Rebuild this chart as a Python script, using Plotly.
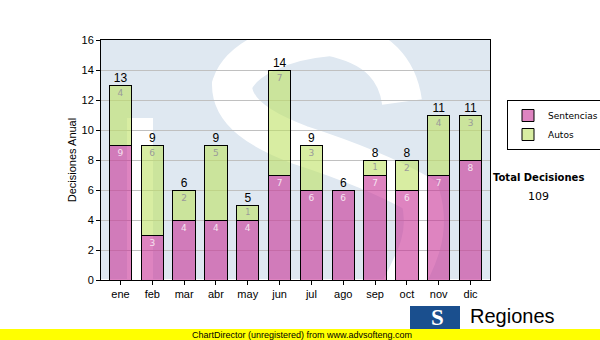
import plotly.graph_objects as go

months = ["ene", "feb", "mar", "abr", "may", "jun", "jul", "ago", "sep", "oct", "nov", "dic"]
sentencias = [9, 3, 4, 4, 4, 7, 6, 6, 7, 6, 7, 8]
autos = [4, 6, 2, 5, 1, 7, 3, 0, 1, 2, 4, 3]
totals = [s + a for s, a in zip(sentencias, autos)]
total_label = "Total Decisiones"

L, R, T, B = 101, 110, 40, 60
W, H = 600, 340
PW, PH = W - L - R, H - T - B


def px(x):
    return (x - L) / PW


def py(y):
    return (H - B - y) / PH


PINK = "rgba(200,50,150,0.6)"
GREEN = "rgba(190,225,100,0.6)"

fig = go.Figure()
fig.add_bar(
    x=months, y=sentencias, name="Sentencias",
    marker=dict(color=PINK, line=dict(color="black", width=1)),
    text=[str(v) if v else "" for v in sentencias],
    textposition="inside", insidetextanchor="end", textangle=0,
    textfont=dict(family="DejaVu Sans", size=9, color="#f6e2f0"),
    width=0.7,
)
fig.add_bar(
    x=months, y=autos, name="Autos",
    marker=dict(color=GREEN, line=dict(color="black", width=1)),
    text=[str(v) if v else "" for v in autos],
    textposition="inside", insidetextanchor="end", textangle=0,
    textfont=dict(family="DejaVu Sans", size=9, color="#9a9a9a"),
    width=0.7,
)
fig.add_scatter(
    x=months, y=totals, mode="text", text=[str(v) for v in totals],
    textposition="top center", showlegend=False, cliponaxis=False,
    textfont=dict(family="Liberation Sans", size=12, color="black"),
)

# watermark "S" (decoration)
pts = [(402, 102), (398, 72), (380, 46), (330, 36), (280, 40), (240, 60), (232, 85),
       (232, 112), (260, 130), (300, 145), (340, 158), (385, 175), (420, 195),
       (432, 235), (415, 262), (395, 300), (330, 300)]
path = "M {},{}".format(px(pts[0][0]), py(pts[0][1]))
i = 1
while i + 2 < len(pts):
    a, b, c = pts[i], pts[i + 1], pts[i + 2]
    path += " C {},{} {},{} {},{}".format(px(a[0]), py(a[1]), px(b[0]), py(b[1]), px(c[0]), py(c[1]))
    i += 3
shapes = [
    dict(type="path", xref="paper", yref="paper", path=path, layer="below",
         line=dict(color="white", width=40), fillcolor="rgba(0,0,0,0)"),
    dict(type="rect", xref="paper", yref="paper", x0=px(127), x1=px(153), y0=py(280), y1=py(118),
         layer="below", line=dict(width=0), fillcolor="white"),
    # logo
    dict(type="rect", xref="paper", yref="paper", x0=px(410), x1=px(460), y0=py(329), y1=py(306),
         layer="above", line=dict(width=0), fillcolor="#1a4f8e"),
    # yellow band
    dict(type="rect", xref="paper", yref="paper", x0=px(0), x1=px(600), y0=py(340), y1=py(329),
         layer="above", line=dict(width=0), fillcolor="#ffff00"),
]

annotations = [
    dict(text="<b>" + total_label + "</b>", x=px(538), y=py(177), xref="paper", yref="paper",
         xanchor="center", yanchor="middle", showarrow=False,
         font=dict(family="DejaVu Sans", size=10, color="black")),
    dict(text=str(sum(totals)), x=px(538), y=py(196), xref="paper", yref="paper",
         xanchor="center", yanchor="middle", showarrow=False,
         font=dict(family="DejaVu Sans", size=11, color="black")),
    dict(text="ChartDirector (unregistered) from www.advsofteng.com", x=px(190), y=py(334.5),
         xref="paper", yref="paper", xanchor="left", yanchor="middle", showarrow=False,
         font=dict(family="Liberation Sans", size=9, color="black")),
    dict(text="Regiones", x=px(468), y=py(316), xref="paper", yref="paper", xanchor="left",
         yanchor="middle", showarrow=False,
         font=dict(family="Liberation Sans", size=20, color="black")),
    dict(text="<b>S</b>", x=px(437), y=py(317), xref="paper", yref="paper",
         xanchor="center", yanchor="middle", showarrow=False,
         font=dict(family="Liberation Serif", size=23, color="white")),
]

fig.update_layout(
    width=W, height=H,
    margin=dict(l=L, r=R, t=T, b=B, autoexpand=False),
    barmode="stack",
    paper_bgcolor="white",
    plot_bgcolor="#dfe8f1",
    shapes=shapes,
    annotations=annotations,
    legend=dict(x=px(507), y=py(100), xanchor="left", yanchor="top",
                bgcolor="white", bordercolor="black", borderwidth=1,
                font=dict(family="DejaVu Sans", size=9, color="black"),
                traceorder="normal", itemwidth=30, tracegroupgap=0),
    font=dict(family="Liberation Sans", size=11, color="black"),
)
fig.update_xaxes(
    showline=True, linecolor="black", linewidth=1, mirror=True,
    ticks="outside", ticklen=4, tickcolor="black",
    tickfont=dict(family="Liberation Sans", size=11, color="black"),
    showgrid=False,
)
fig.update_yaxes(
    range=[0, 16], dtick=2,
    showline=True, linecolor="black", linewidth=1, mirror=True,
    ticks="outside", ticklen=4, tickcolor="black",
    showgrid=True, gridcolor="#c0c0c0", gridwidth=1,
    tickfont=dict(family="Liberation Sans", size=11, color="black"),
    title=dict(text="Decisiones Anual", font=dict(family="Liberation Sans", size=11, color="black"), standoff=2),
)

fig.write_html("out.html")
